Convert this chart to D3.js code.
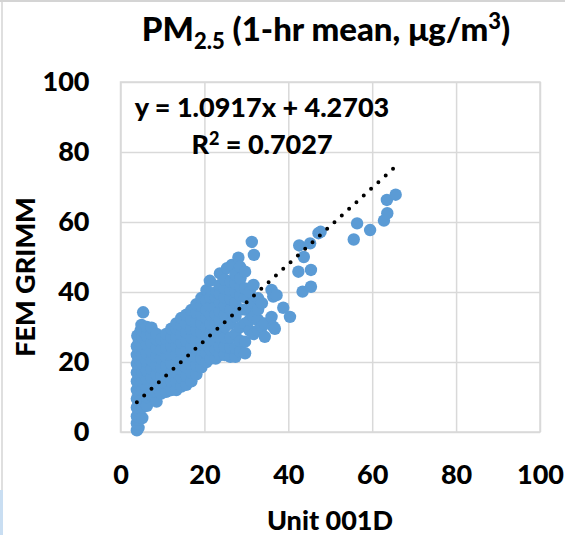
<!DOCTYPE html>
<html>
<head>
<meta charset="utf-8">
<script src="https://cdn.jsdelivr.net/npm/d3@7/dist/d3.min.js"></script>
<style>
  html, body { margin: 0; padding: 0; background: #fff; }
  svg { display: block; }
  text { font-family: Lato, "Open Sans", sans-serif; font-weight: 900; fill: #000; }
</style>
</head>
<body>
<svg id="chart" width="565" height="535"></svg>
<script>
// ---------- data ----------
const xTicks = [0, 20, 40, 60, 80, 100];
const yTicks = [0, 20, 40, 60, 80, 100];
const xLabel = "Unit 001D";
const yLabel = "FEM GRIMM";
const slope = 1.0917;
const intercept = 4.2703;
const rSquared = "0.7027";

// vertical stack of low Unit 001D readings
const stackPts = [
  [3.9,0.5],[4.3,1.2],[3.9,2.5],[4.4,3.5],[3.9,4.5],[4.4,6],[3.9,7],[4.4,8.5],
  [3.9,9.5],[4.4,11],[3.9,12],[4.4,13.5],[3.9,14.5],[4.4,16],[3.9,17],[4.4,18.5],
  [3.9,19.5],[4.4,21],[3.9,22],[4.4,23.5],[3.9,24.5],[4.4,26],[4.0,27.5],[4.8,29],
  [5.0,30.6],[5.4,34.2]
];

// main diagonal band
const bandPts = [
  [5.2,4],[5.2,7],[5.2,9.5],[5.2,12],[5.2,14.5],[5.2,17],[5.2,19.5],[5.2,22],[5.2,24.5],[5.2,27],[5.2,29],
  [6.3,7.5],[6.3,10],[6.3,12.5],[6.3,15],[6.3,17.5],[6.3,20],[6.3,22.5],[6.3,25],[6.3,27.5],[6.3,30],
  [7.4,10.5],[7.4,13],[7.4,15.5],[7.4,18],[7.4,20.5],[7.4,23],[7.4,25.5],[7.4,28],[7.4,29.8],
  [8.6,8.7],[8.6,11.5],[8.6,14],[8.6,16.5],[8.6,19],[8.6,21.5],[8.6,24],[8.6,26.5],[8.6,28],
  [9.7,11],[9.7,13.5],[9.7,16],[9.7,18.5],[9.7,21],[9.7,23.5],[9.7,26.5],
  [10.9,11.5],[10.9,14],[10.9,16.5],[10.9,19],[10.9,21.5],[10.9,24],[10.9,26.5],[10.9,28],
  [12.1,12],[12.1,14.5],[12.1,17],[12.1,19.5],[12.1,22],[12.1,24.5],[12.1,27],[12.1,29.5],
  [13.3,12],[13.3,14.5],[13.3,17],[13.3,19.5],[13.3,22],[13.3,24.5],[13.3,27],[13.3,29.5],[13.3,31],
  [14.5,13],[14.5,15.5],[14.5,18],[14.5,20.5],[14.5,23],[14.5,25.5],[14.5,28],[14.5,30.5],[14.5,32.6],
  [15.7,13.5],[15.7,16],[15.7,18.5],[15.7,21],[15.7,23.5],[15.7,26],[15.7,28.5],[15.7,31],[15.7,33.5],
  [16.9,14.5],[16.9,17],[16.9,19.5],[16.9,22],[16.9,24.5],[16.9,27],[16.9,29.5],[16.9,32],[16.9,34.9],
  [18.1,16.5],[18.1,19],[18.1,21.5],[18.1,24],[18.1,26.5],[18.1,29],[18.1,31.5],[18.1,34],[18.1,36.5],
  [19.3,18.5],[19.3,21],[19.3,23.5],[19.3,26],[19.3,28.5],[19.3,31],[19.3,33.5],[19.3,36],[19.3,38.3],
  [20.5,20],[20.5,22.5],[20.5,25],[20.5,27.5],[20.5,30],[20.5,32.5],[20.5,35],[20.5,37.5],[20.5,40.5],
  [21.5,21],[21.5,23.5],[21.5,26],[21.5,28.5],[21.5,31],[21.5,33.5],[21.5,36],[21.5,38.5],[21.3,43.2],
  [22.7,21],[22.7,23.5],[22.7,26],[22.7,28.5],[22.7,31],[22.7,33.5],[22.7,36],[22.7,38.5],[22.9,40.1],
  [23.7,22],[23.7,24.5],[23.7,27],[23.7,29.5],[23.7,32],[23.7,34.5],[23.7,37],[23.7,39.5],[23.7,42],[23.7,45.3],
  [24.9,22],[24.9,24.5],[24.9,27],[24.9,30],[24.9,33.5],[24.9,36],[24.9,38.5],[24.9,41],[24.9,43.5],
  [25.4,46.8],
  [26.2,21.5],[26.2,24],[26.2,27],[26.2,31],[26.2,35],[26.2,38],[26.2,40.5],[26.2,43],[26.5,47.7],
  [27.4,21.5],[27.4,24],[27.4,28],[27.4,33],[27.4,37],[27.4,40],[27.4,42.5],[27.4,45],
  [28.1,49.8],[28.5,47.2],
  [28.6,23],[28.6,26],[28.6,30],[28.6,35],[28.6,39],[28.6,41.5],[28.6,43.9],
  [29.7,22.5],[29.7,25.8],[29.7,31],[29.7,35],[29.7,38.5],[29.7,41],[29.7,45.8],
  [30.8,29],[30.8,32],[30.8,35.5],[30.8,40],
  [31.3,54.3],[31.8,50.6],[31.7,28],[31.7,33],[31.7,37],[31.7,42],
  [32.8,29],[32.8,32],[32.8,35],[32.8,38.2],
  [33.7,30],[33.7,36.8],[34.4,27.2],[34.4,31]
];

// sparse higher readings
const outlierPts = [
  [36.0,32.9],[36.0,40.6],[36.4,30.1],[36.4,38.7],[37.2,39.1],[36.8,29.5],
  [38.8,35.5],[40.4,32.9],
  [42.4,45.8],[45.4,46.3],[43.4,40.1],[45.4,41.5],[42.6,53.3],[45.2,53.9],
  [43.7,50.0],[47.2,56.8],[47.7,57.2],
  [55.6,55.0],[56.4,59.6],[59.5,57.7],[62.8,60.4],[63.6,62.5],[63.5,66.3],[65.6,67.8]
];

// ---------- chart ----------
const svg = d3.select("#chart");
svg.append("rect").attr("width", 565).attr("height", 535).attr("fill", "#fff");

// outer frame remnants
svg.append("line").attr("x1", 0).attr("x2", 565).attr("y1", 1).attr("y2", 1)
  .attr("stroke", "#d4d4d4").attr("stroke-width", 2);
svg.append("line").attr("x1", 2).attr("x2", 2).attr("y1", 0).attr("y2", 490)
  .attr("stroke", "#d4d4d4").attr("stroke-width", 1.5);
svg.append("rect").attr("x", 0).attr("y", 490).attr("width", 3).attr("height", 45)
  .attr("fill", "#c9def2");

const x = d3.scaleLinear().domain([0, 100]).range([120.5, 540]);
const y = d3.scaleLinear().domain([0, 100]).range([432, 82]);
const plotW = x(100) - x(0), plotH = y(0) - y(100);
const gridColor = "#d9d9d9";

// y axis with gridlines
const yAxis = svg.append("g")
  .attr("transform", `translate(${x(0)},0)`)
  .call(d3.axisLeft(y).tickValues(yTicks).tickSize(-plotW).tickPadding(31).tickFormat(d3.format("d")));
yAxis.select(".domain").remove();
yAxis.selectAll(".tick line").attr("stroke", gridColor).attr("stroke-width", 1.5);
yAxis.selectAll(".tick text").style("font-size", "27px").style("font-family", "Lato").style("font-weight", "900").attr("fill", "#000");

// x axis with gridlines
const xAxis = svg.append("g")
  .attr("transform", `translate(0,${y(0)})`)
  .call(d3.axisBottom(x).tickValues(xTicks).tickSize(-plotH).tickPadding(33).tickFormat(d3.format("d")));
xAxis.select(".domain").remove();
xAxis.selectAll(".tick line").attr("stroke", gridColor).attr("stroke-width", 1.5);
xAxis.selectAll(".tick text").style("font-size", "27px").style("font-family", "Lato").style("font-weight", "900").attr("fill", "#000");

// plot border
svg.append("rect")
  .attr("x", x(0)).attr("y", y(100)).attr("width", plotW).attr("height", plotH)
  .attr("fill", "none").attr("stroke", gridColor).attr("stroke-width", 1.5);

// points
const allPts = stackPts.concat(bandPts, outlierPts);
svg.append("g").selectAll("circle")
  .data(allPts)
  .join("circle")
  .attr("cx", d => x(d[0]))
  .attr("cy", d => y(d[1]))
  .attr("r", 6.2)
  .attr("fill", "#5b9bd5");

// linear trendline (dotted)
const xExt = d3.extent(allPts, d => d[0]);
const trend = xExt.map(v => [v, slope * v + intercept]);
svg.append("path")
  .attr("d", d3.line().x(d => x(d[0])).y(d => y(d[1]))(trend))
  .attr("fill", "none")
  .attr("stroke", "#000")
  .attr("stroke-width", 4)
  .attr("stroke-linecap", "round")
  .attr("stroke-dasharray", "0 9.9");

// equation label
svg.append("text")
  .attr("x", 262).attr("y", 117)
  .attr("text-anchor", "middle")
  .style("font-size", "27px")
  .text(`y = ${slope}x + ${intercept}`);
const r2 = svg.append("text")
  .attr("x", 262).attr("y", 154)
  .attr("text-anchor", "middle")
  .style("font-size", "27px");
r2.append("tspan").text("R");
r2.append("tspan").attr("dy", -9).style("font-size", "18px").text("2");
r2.append("tspan").attr("dy", 9).text(` = ${rSquared}`);

// title
const title = svg.append("text")
  .attr("x", 326).attr("y", 41)
  .attr("text-anchor", "middle")
  .style("font-size", "33px");
title.append("tspan").text("PM");
title.append("tspan").attr("dy", 8).style("font-size", "22px").text("2.5");
title.append("tspan").attr("dy", -8).text(" (1-hr mean, μg/m");
title.append("tspan").attr("dy", -12).style("font-size", "22px").text("3");
title.append("tspan").attr("dy", 12).text(")");

// axis titles
svg.append("text")
  .attr("x", 330).attr("y", 530)
  .attr("text-anchor", "middle")
  .style("font-size", "27px")
  .text(xLabel);
svg.append("text")
  .attr("transform", "translate(35,277) rotate(-90)")
  .attr("text-anchor", "middle")
  .style("font-size", "27px")
  .text(yLabel);
</script>
</body>
</html>
